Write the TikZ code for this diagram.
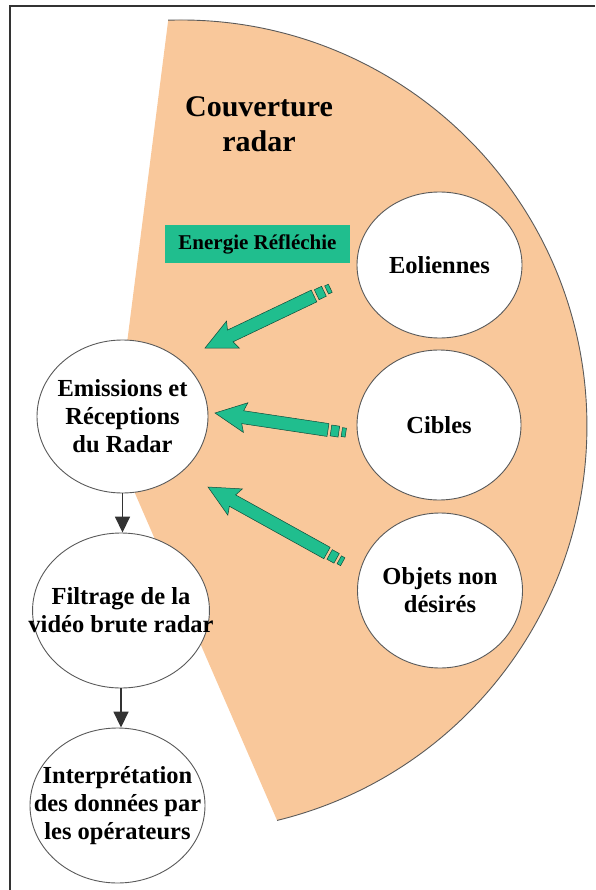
\documentclass[tikz,border=0pt]{standalone}
\usepackage{fontspec}
\setmainfont{Liberation Serif}
\usepackage{tikz}
\usetikzlibrary{arrows.meta,shapes.geometric}
\definecolor{RadarPeach}{HTML}{F9C89B}
\definecolor{RadarGreen}{HTML}{20BE8E}
\definecolor{RadarEdge}{HTML}{5A5A5A}
\tikzset{
  bubble/.style={ellipse, draw=RadarEdge, line width=0.9pt, fill=white,
                 align=center, inner xsep=-30pt, inner ysep=-20pt,
                 font=\bfseries\fontsize{24.5}{28}\selectfont},
  title/.style={align=center, font=\bfseries\fontsize{30}{35}\selectfont},
  tag/.style={fill=RadarGreen, minimum width=185, minimum height=38,
              inner sep=0pt, font=\bfseries\fontsize{21}{24}\selectfont},
  reflet/.style={fill=RadarGreen, draw=RadarGreen!40!black, line width=0.5pt},
  chain/.style={-{Triangle[length=16pt,width=15pt]}, line width=1.6pt, draw=black!80}
}
% block arrow from #1 (end of the shaft) to #2 (tip), with its two dashes
\makeatletter
\newcommand\reflet[2]{%
  \pgfmathanglebetweenpoints{\pgfpointanchor{#2}{center}}{\pgfpointanchor{#1}{center}}%
  \let\refang\pgfmathresult
  \pgfpointdiff{\pgfpointanchor{#2}{center}}{\pgfpointanchor{#1}{center}}%
  \pgfmathveclen{\pgf@x}{\pgf@y}%
  \let\reflen\pgfmathresult
  \begin{scope}[shift={(#2)}, rotate=\refang]
    \filldraw[reflet] (0,0) -- (31,15) -- (28,6.5) -- (\reflen,6.5)
      -- (\reflen,-6.5) -- (28,-6.5) -- (31,-15) -- cycle;
    \filldraw[reflet] (\reflen+3,5.5) rectangle (\reflen+11,-5.5);
    \filldraw[reflet] (\reflen+14,4.5) rectangle (\reflen+18,-4.5);
  \end{scope}}
\makeatother

\begin{document}
\begin{tikzpicture}[x=1pt, y=-1pt]
  \useasboundingbox (0,0) rectangle (595,890);
  \draw[line width=1.5pt, draw=black!80] (10,890) -- (10,6) -- (595,6);

  % radar coverage
  \fill[RadarPeach] (114,445) -- (168.2,20.2)
    arc[start angle=-91.8, end angle=76.3, radius=406] -- cycle;
  \draw[RadarEdge, line width=0.9pt] (168.2,20.2)
    arc[start angle=-91.8, end angle=76.3, radius=406];
  \node[title] (cover) at (259,124) {Couverture\\radar};
  \node[tag] (energy) at (257.5,244) {Energie Réfléchie};

  \node[bubble, minimum width=171, minimum height=153] (emis) at (122.5,416.5) {Emissions et\\Réceptions\\du Radar};
  \node[bubble, minimum width=172, minimum height=155] (filtr) at (121,610.5) {Filtrage de la\\vidéo brute radar};
  \node[bubble, minimum width=175, minimum height=155] (interp) at (117.5,805.5) {Interprétation\\des données par\\les opérateurs};
  \node[bubble, minimum width=165, minimum height=146] (eol) at (439.5,265) {Eoliennes};
  \node[bubble, minimum width=164, minimum height=150] (cibl) at (439,425) {Cibles};
  \node[bubble, minimum width=165, minimum height=155] (objets) at (440,590.5) {Objets non\\désirés};

  \draw[chain] (emis.south) -- (emis.south |- filtr.north);
  \draw[chain] (filtr.south) -- (filtr.south |- interp.north);

  \coordinate (eolTail) at (314,296);
  \coordinate (eolTip) at (205,348);
  \coordinate (ciblTail) at (328,430);
  \coordinate (ciblTip) at (215,413);
  \coordinate (objTail) at (327,553);
  \coordinate (objTip) at (208,487);
  \reflet{eolTail}{eolTip}
  \reflet{ciblTail}{ciblTip}
  \reflet{objTail}{objTip}
\end{tikzpicture}
\end{document}
